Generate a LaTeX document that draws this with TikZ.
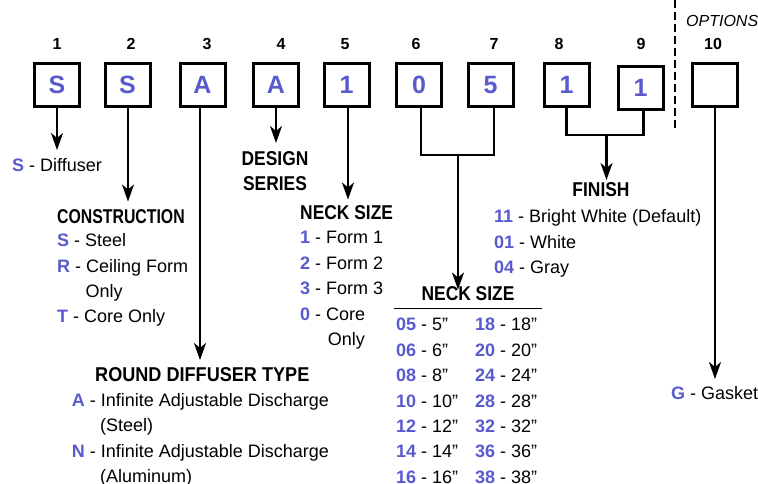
\documentclass[tikz,border=0pt]{standalone}
\usepackage{fontspec}
\setmainfont{Liberation Sans}
\newfontfamily\headfont[FakeStretch=0.87]{Liberation Sans}
\usetikzlibrary{arrows.meta}
\definecolor{codeblue}{RGB}{88,90,205}
\newcommand{\cd}[1]{{\bfseries\color{codeblue}#1}}
\begin{document}
\begin{tikzpicture}[x=1pt,y=-1pt,
  box/.style={draw, line width=3pt, minimum width=45pt, minimum height=43pt, inner sep=0pt,
    font=\bfseries\fontsize{25}{25}\selectfont, text=codeblue},
  num/.style={font=\bfseries\fontsize{16}{16}\selectfont, anchor=base, inner sep=0pt},
  body/.style={font=\fontsize{18}{25}\selectfont, anchor=base west, inner sep=0pt},
  head/.style={font=\headfont\bfseries\fontsize{20}{24}\selectfont, anchor=base west, inner sep=0pt},
  conn/.style={line width=2.2pt},
  arr/.style={conn, -{Stealth[length=17pt,width=12pt,inset=5pt]}}]
\fill[white] (0,0) rectangle (758,483);
\useasboundingbox (0,0) rectangle (758,483);

% position numbers
\node[num] (n1) at (57,49) {1};
\node[num] (n2) at (131,49) {2};
\node[num] (n3) at (207,49) {3};
\node[num] (n4) at (281,49) {4};
\node[num] (n5) at (345,49) {5};
\node[num] (n6) at (416,49) {6};
\node[num] (n7) at (494,49) {7};
\node[num] (n8) at (559,49) {8};
\node[num] (n9) at (641,49) {9};
\node[num] (n10) at (713,49) {10};
\node[anchor=base west, inner sep=0pt, font=\itshape\fontsize{16}{16}\selectfont] (opt) at (686,26) {OPTIONS};

% boxes
\node[box] (b1) at (57,85) {S};
\node[box] (b2) at (127.5,85) {S};
\node[box] (b3) at (202.5,85) {A};
\node[box] (b4) at (276,85) {A};
\node[box] (b5) at (346.5,85) {1};
\node[box] (b6) at (419,85) {0};
\node[box] (b7) at (490.5,85) {5};
\node[box] (b8) at (566.5,85) {1};
\node[box] (b9) at (640.5,87.5) {1};
\node[box] (b10) at (715,85) {};

% options divider
\draw[line width=2.2pt, dash pattern=on 8pt off 4pt] (675,0) -- (675,130);

% arrow end points
\coordinate (a1) at (57,150);
\coordinate (a2) at (128,201.5);
\coordinate (a3) at (200,360);
\coordinate (a4) at (276,143);
\coordinate (a5) at (348,199.5);
\coordinate (m67) at (458,155);
\coordinate (a67) at (458,289.5);
\coordinate (m89) at (606.5,135);
\coordinate (a89) at (606.5,180);
\coordinate (a10) at (715,379);

\draw[arr] (b1.south) -- (a1);
\draw[arr] ([xshift=0.5pt]b2.south) -- (a2);
\draw[arr] ([xshift=-2.5pt]b3.south) -- (a3);
\draw[arr] (b4.south) -- (a4);
\draw[arr] ([xshift=1.5pt]b5.south) -- (a5);
\draw[conn] ([xshift=2pt]b6.south) |- (m67) -| ([xshift=3.5pt]b7.south);
\draw[arr] (m67) -- (a67);
\draw[conn] (b8.south) |- (m89) -| ([xshift=3pt]b9.south);
\draw[arr] (m89) -- (a89);
\draw[arr] (b10.south) -- (a10);

% 1 - diffuser
\node[body] (t1) at (12,171.5) {\cd{S} - Diffuser};

% 2 - construction
\node[head] (h2) at (57,223.3) {\scalebox{0.91}[1]{CONSTRUCTION}};
\node[body] (t2a) at (57,246.7) {\cd{S} - Steel};
\node[body] (t2b) at (57,272) {\cd{R} - Ceiling Form};
\node[body] (t2c) at (85.5,297.5) {Only};
\node[body] (t2d) at (57,322.7) {\cd{T} - Core Only};

% 3 - round diffuser type
\node[head] (h3) at (95,381) {\scalebox{1.04}[1]{ROUND DIFFUSER TYPE}};
\node[body] (t3a) at (71.7,406) {\cd{A} - Infinite Adjustable Discharge};
\node[body] (t3b) at (100,431.5) {(Steel)};
\node[body] (t3c) at (71.7,457) {\cd{N} - Infinite Adjustable Discharge};
\node[body] (t3d) at (100,482.5) {(Aluminum)};

% 4 - design series
\node[head, anchor=base] (h4a) at (275,165.5) {DESIGN};
\node[head, anchor=base] (h4b) at (275,190) {SERIES};

% 5 - neck size form
\node[head] (h5) at (300,219.3) {NECK SIZE};
\node[body] (t5a) at (300,243.3) {\cd{1} - Form 1};
\node[body] (t5b) at (300,269) {\cd{2} - Form 2};
\node[body] (t5c) at (300,294.5) {\cd{3} - Form 3};
\node[body] (t5d) at (300,320) {\cd{0} - Core};
\node[body] (t5e) at (327.7,345.5) {Only};

% 6/7 - neck size table
\node[head, anchor=base] (h67) at (468,300.7) {NECK SIZE};
\draw[line width=1.2pt] (394,308.3) -- (542,308.3);
\node[body] (r1a) at (396,330.7) {\cd{05} - 5”};
\node[body] (r2a) at (396,356.1) {\cd{06} - 6”};
\node[body] (r3a) at (396,381.6) {\cd{08} - 8”};
\node[body] (r4a) at (396,407.0) {\cd{10} - 10”};
\node[body] (r5a) at (396,432.4) {\cd{12} - 12”};
\node[body] (r6a) at (396,457.9) {\cd{14} - 14”};
\node[body] (r7a) at (396,483.3) {\cd{16} - 16”};
\node[body] (r1b) at (475,330.7) {\cd{18} - 18”};
\node[body] (r2b) at (475,356.1) {\cd{20} - 20”};
\node[body] (r3b) at (475,381.6) {\cd{24} - 24”};
\node[body] (r4b) at (475,407.0) {\cd{28} - 28”};
\node[body] (r5b) at (475,432.4) {\cd{32} - 32”};
\node[body] (r6b) at (475,457.9) {\cd{36} - 36”};
\node[body] (r7b) at (475,483.3) {\cd{38} - 38”};

% 8/9 - finish
\node[head, anchor=base] (h89) at (601,196.7) {FINISH};
\node[body] (f1) at (494,222.7) {\cd{11} - Bright White (Default)};
\node[body] (f2) at (494,248) {\cd{01} - White};
\node[body] (f3) at (494,273.3) {\cd{04} - Gray};

% 10 - options
\node[body] (g10) at (671,399) {\cd{G} - Gasket};
\end{tikzpicture}
\end{document}
